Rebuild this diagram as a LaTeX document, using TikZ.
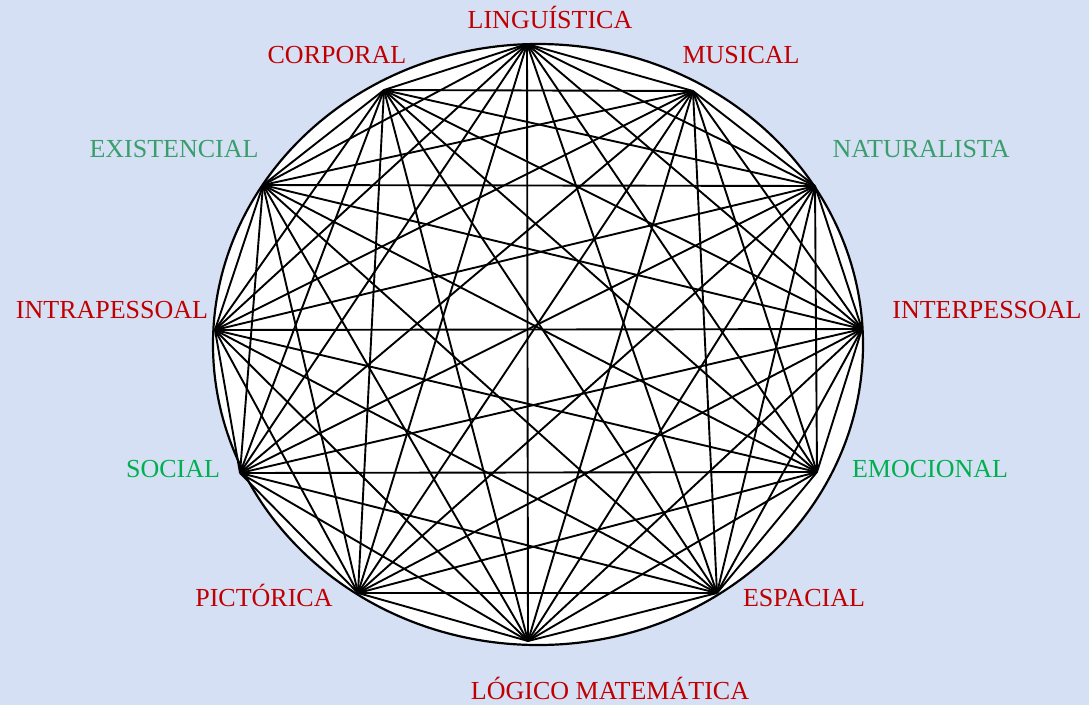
\documentclass[tikz,border=0pt]{standalone}
\usepackage{fontspec}
\setmainfont{Liberation Serif}
\usepackage{tikz}
\definecolor{bgblue}{RGB}{214,224,244}
\definecolor{labred}{RGB}{192,0,0}
\definecolor{labteal}{RGB}{58,158,108}
\definecolor{labgreen}{RGB}{0,176,80}
\tikzset{lab/.style={anchor=base,inner sep=0pt,font=\fontsize{26}{30}\selectfont}}

\begin{document}
\begin{tikzpicture}[x=1pt,y=-1pt]
  \fill[bgblue] (0,0) rectangle (1089,705);
  \useasboundingbox (0,0) rectangle (1089,705);
  \draw[line width=2.2pt,fill=white] (538,344.5) ellipse [x radius=325pt,y radius=300.5pt];
  \foreach \n/\x/\y in {1/527/44,2/693/91,3/815/186,4/862/329,5/817/472,6/717/593,
      7/528/641,8/358/593,9/240/473,10/215/330,11/263/185,12/384/90}
    \coordinate (v\n) at (\x,\y);
  \foreach \i in {1,...,11} {
    \pgfmathtruncatemacro{\k}{\i+1}
    \foreach \j in {\k,...,12}
      \draw[line width=1.9pt] (v\i) -- (v\j);}
  \node[lab,text=labred] (ling) at (550,28) {LINGUÍSTICA};
  \node[lab,text=labred] (musi) at (741,63) {MUSICAL};
  \node[lab,text=labteal] (natu) at (921,157) {NATURALISTA};
  \node[lab,text=labred] (inter) at (987,318) {INTERPESSOAL};
  \node[lab,text=labgreen] (emoc) at (930,477) {EMOCIONAL};
  \node[lab,text=labred] (espa) at (804,606) {ESPACIAL};
  \node[lab,text=labred] (logi) at (610,699) {LÓGICO MATEMÁTICA};
  \node[lab,text=labred] (pict) at (264,606) {PICTÓRICA};
  \node[lab,text=labgreen] (soci) at (173,477) {SOCIAL};
  \node[lab,text=labred] (intra) at (112,318) {INTRAPESSOAL};
  \node[lab,text=labteal] (exis) at (174,157) {EXISTENCIAL};
  \node[lab,text=labred] (corp) at (337,63) {CORPORAL};
\end{tikzpicture}
\end{document}
